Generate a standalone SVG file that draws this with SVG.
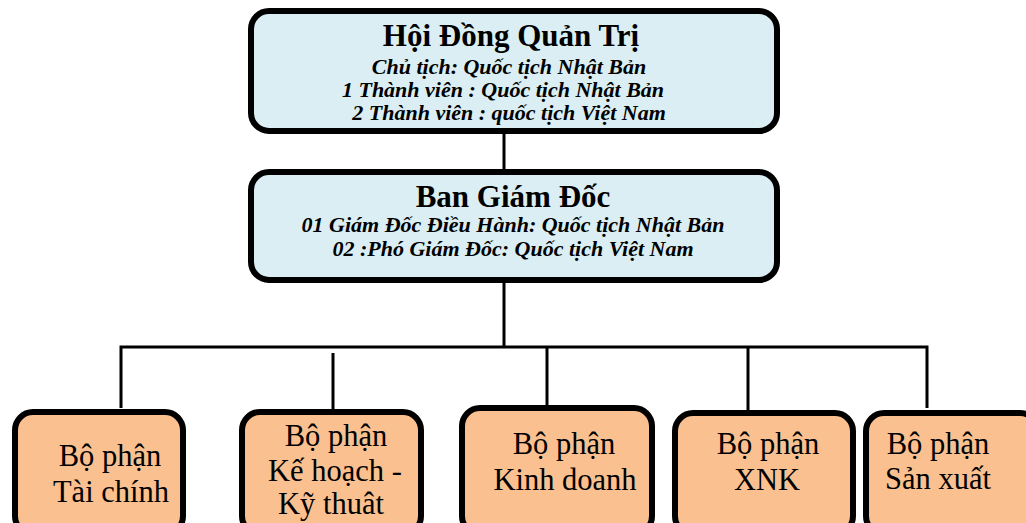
<svg xmlns="http://www.w3.org/2000/svg" width="1026" height="523" viewBox="0 0 1026 523">
<style>
.top{fill:#daeef3;stroke:#000;stroke-width:6}
.dept{fill:#fac090;stroke:#000;stroke-width:6}
.conn{stroke:#000;stroke-width:3;fill:none}
.title{font-family:"Liberation Serif","Times New Roman",serif;font-weight:bold;font-size:31px;text-anchor:middle}
.sub{font-family:"Liberation Serif","Times New Roman",serif;font-weight:bold;font-style:italic;font-size:22px;text-anchor:middle}
.dtxt{font-family:"Liberation Serif","Times New Roman",serif;font-size:30.5px;text-anchor:middle}
</style>
<rect width="1026" height="523" fill="#fff"/>
<g id="connectors">
<line class="conn" x1="504" y1="133" x2="504" y2="170"/>
<line class="conn" x1="504" y1="282" x2="504" y2="348"/>
<polyline class="conn" points="121,408 121,347 927,347 927,408"/>
<line class="conn" x1="333" y1="353" x2="333" y2="410"/>
<line class="conn" x1="547" y1="347" x2="547" y2="406"/>
<line class="conn" x1="748" y1="347" x2="748" y2="410"/>
</g>
<g id="hdqt">
<rect class="top" x="251" y="11" width="526" height="120" rx="18"/>
<text class="title" x="511" y="46">Hội Đồng Quản Trị</text>
<text class="sub" x="509" y="74">Chủ tịch: Quốc tịch Nhật Bản</text>
<text class="sub" x="503" y="97">1 Thành viên : Quốc tịch Nhật Bản</text>
<text class="sub" x="509" y="120">2 Thành viên : quốc tịch Việt Nam</text>
</g>
<g id="bgd">
<rect class="top" x="251" y="172" width="526" height="108" rx="18"/>
<text class="title" x="513" y="207">Ban Giám Đốc</text>
<text class="sub" x="513" y="232">01 Giám Đốc Điều Hành: Quốc tịch Nhật Bản</text>
<text class="sub" x="513" y="256">02 :Phó Giám Đốc: Quốc tịch Việt Nam</text>
</g>
<g id="taichinh">
<rect class="dept" x="15" y="412" width="168" height="122" rx="18"/>
<text class="dtxt" x="110" y="466">Bộ phận</text>
<text class="dtxt" x="111" y="502">Tài chính</text>
</g>
<g id="kehoach">
<rect class="dept" x="242" y="412" width="179" height="122" rx="18"/>
<text class="dtxt" x="336" y="446">Bộ phận</text>
<text class="dtxt" x="335" y="481">Kế hoạch -</text>
<text class="dtxt" x="331" y="514">Kỹ thuât</text>
</g>
<g id="kinhdoanh">
<rect class="dept" x="462" y="408" width="190" height="126" rx="18"/>
<text class="dtxt" x="564" y="454">Bộ phận</text>
<text class="dtxt" x="565" y="490">Kinh doanh</text>
</g>
<g id="xnk">
<rect class="dept" x="675" y="413" width="178" height="121" rx="18"/>
<text class="dtxt" x="768" y="454">Bộ phận</text>
<text class="dtxt" x="767" y="490">XNK</text>
</g>
<g id="sanxuat">
<rect class="dept" x="866" y="413" width="172" height="121" rx="18"/>
<text class="dtxt" x="938" y="454">Bộ phận</text>
<text class="dtxt" x="938" y="489">Sản xuất</text>
</g>
</svg>
